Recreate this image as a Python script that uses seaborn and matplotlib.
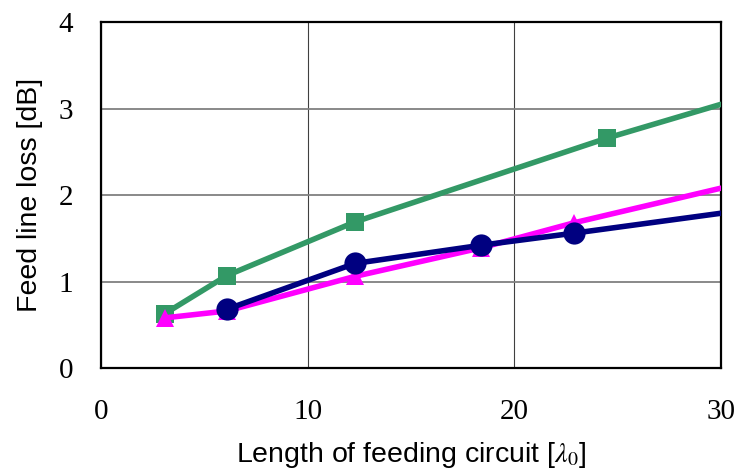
import matplotlib
matplotlib.use("Agg")
import matplotlib.pyplot as plt
import seaborn as sns
import pandas as pd

# Feed line loss versus feeding circuit length for three line types
green_x = [3.1, 6.1, 12.3, 24.5, 30.0]
green_y = [0.63, 1.07, 1.69, 2.66, 3.05]

navy_x = [6.1, 12.3, 18.4, 22.9, 30.0]
navy_y = [0.68, 1.21, 1.42, 1.56, 1.79]

pink_x = [3.1, 6.1, 12.3, 18.4, 22.9, 30.0]
pink_y = [0.58, 0.66, 1.06, 1.39, 1.68, 2.08]

x_ticks = [0, 10, 20, 30]
y_ticks = [0, 1, 2, 3, 4]

sns.set_style("white")
plt.rcParams["mathtext.fontset"] = "stix"

fig = plt.figure(figsize=(7.37, 4.73), dpi=100)
ax = fig.add_axes([0.137, 0.222, 0.841, 0.731])

series = [
    (green_x, green_y, "#339966", "s", 13),
    (pink_x, pink_y, "#FF00FF", "^", 13),
    (navy_x, navy_y, "#000080", "o", 16),
]
for xs, ys, color, marker, ms in series:
    df = pd.DataFrame({"x": xs, "y": ys})
    sns.lineplot(data=df, x="x", y="y", ax=ax, color=color, lw=4.0,
                 marker=marker, markersize=ms, markeredgewidth=0,
                 markevery=list(range(len(xs) - 1)), clip_on=True, zorder=3)

ax.set_xlim(0, 30)
ax.set_ylim(0, 4)
ax.set_xticks(x_ticks)
ax.set_yticks(y_ticks)
ax.set_xticklabels([str(t) for t in x_ticks], fontfamily="Liberation Serif", fontsize=21)
ax.set_yticklabels([str(t) for t in y_ticks], fontfamily="Liberation Serif", fontsize=21)
ax.tick_params(axis="x", pad=22, length=0, colors="black")
ax.tick_params(axis="y", pad=20, length=0, colors="black")

ax.xaxis.grid(True, color="#404040", lw=0.8)
ax.yaxis.grid(True, color="#808080", lw=1.3)
ax.set_axisbelow(True)
for s in ax.spines.values():
    s.set_color("black")
    s.set_linewidth(1.6)

ax.set_xlabel(r"Length of feeding circuit [$\lambda_0$]", fontfamily="Liberation Sans",
              fontsize=20.5, labelpad=11, color="black")
ax.set_ylabel("Feed line loss [dB]", fontfamily="Liberation Sans", fontsize=20.5,
              labelpad=11, color="black")

fig.savefig("out.png", dpi=100)
